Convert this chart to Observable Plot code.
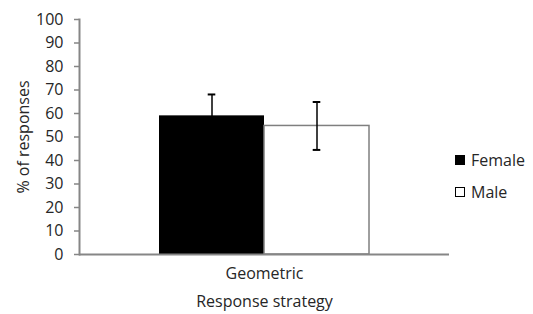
<!DOCTYPE html>
<html>
<head>
<meta charset="utf-8">
<script src="https://cdn.jsdelivr.net/npm/d3@7"></script>
<script src="https://cdn.jsdelivr.net/npm/@observablehq/plot@0.6"></script>
<style>
  body { margin: 0; background: #fff; }
  #wrap { position: relative; width: 533px; height: 314px; font-family: "Open Sans", sans-serif; }
  .leg { position: absolute; left: 455px; font-size: 16px; color: #262626; display: flex; align-items: center; height: 20px; }
  .sw { width: 10px; height: 10px; margin-right: 6px; box-sizing: border-box; }
</style>
</head>
<body>
<div id="wrap"></div>
<script>
const categories = ["Geometric"];
const sexes = ["Female", "Male"];
const means = [59, 54.7];
const errors = [9.1, 10.2];
const yTicks = [0, 10, 20, 30, 40, 50, 60, 70, 80, 90, 100];

const data = sexes.map((s, i) => ({strategy: categories[0], sex: s, mean: means[i], err: errors[i]}));

const chart = Plot.plot({
  width: 533,
  height: 314,
  marginLeft: 79,
  marginRight: 84,
  marginTop: 19,
  marginBottom: 60,
  style: {fontFamily: "Open Sans", fontSize: "16px", color: "#262626", background: "#fff"},
  fx: {domain: categories, padding: 0},
  x: {domain: sexes, paddingInner: 0, paddingOuter: 0.754, axis: null},
  y: {domain: [0, 100]},
  marks: [
    Plot.axisY({ticks: yTicks, tickSize: 5, tickPadding: 11, stroke: "#868686", strokeWidth: 1.5,
      label: "% of responses", labelAnchor: "center", labelArrow: "none", labelOffset: 62}),
    Plot.axisFx({anchor: "bottom", tickSize: 0, tickPadding: 13,
      label: "Response strategy", labelAnchor: "center", labelArrow: "none", labelOffset: 52}),
    Plot.frame({anchor: "left", stroke: "#868686", strokeWidth: 2}),
    Plot.barY(data.filter(d => d.sex === "Female"), {fx: "strategy", x: "sex", y: "mean", fill: "#000"}),
    Plot.barY(data.filter(d => d.sex === "Male"), {fx: "strategy", x: "sex", y: "mean", fill: "#fff", stroke: "#7f7f7f", strokeWidth: 1.5}),
    Plot.ruleY([0], {stroke: "#868686", strokeWidth: 2}),
    Plot.ruleX(data, {fx: "strategy", x: "sex", y1: d => d.mean - d.err, y2: d => d.mean + d.err, stroke: "#000", strokeWidth: 1.5}),
    Plot.tickY(data, {fx: "strategy", x: "sex", y: d => d.mean + d.err, stroke: "#000", strokeWidth: 2, inset: 48.7}),
    Plot.tickY(data, {fx: "strategy", x: "sex", y: d => d.mean - d.err, stroke: "#000", strokeWidth: 2, inset: 48.7})
  ]
});

const wrap = document.getElementById("wrap");
wrap.appendChild(chart);

const legTops = [150, 182];
const legFills = ["#000", "#fff"];
sexes.forEach((s, i) => {
  const row = document.createElement("div");
  row.className = "leg";
  row.style.top = legTops[i] + "px";
  const sw = document.createElement("div");
  sw.className = "sw";
  sw.style.background = legFills[i];
  sw.style.border = "1px solid #000";
  const t = document.createElement("span");
  t.textContent = s;
  row.appendChild(sw);
  row.appendChild(t);
  wrap.appendChild(row);
});
</script>
</body>
</html>
